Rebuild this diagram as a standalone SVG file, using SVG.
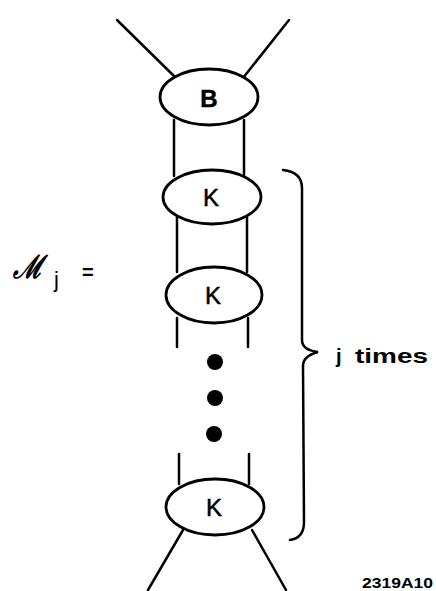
<svg xmlns="http://www.w3.org/2000/svg" width="436" height="591" viewBox="0 0 436 591">
<style>
.s{fill:none;stroke:#000;stroke-width:2.5;stroke-linecap:round}
.e{fill:#fff;stroke:#000;stroke-width:2.8}
.lbl{font-family:"Liberation Sans",Arial,sans-serif;font-size:24px;text-anchor:middle;fill:#000;stroke:#000;stroke-width:0.5}
.dot{fill:#000}
</style>
<rect width="436" height="591" fill="#fff"/>
<g id="connectors">
<line class="s" x1="117" y1="20" x2="176" y2="78"/>
<line class="s" x1="289" y1="20" x2="243" y2="78"/>
<line class="s" x1="174" y1="120" x2="174" y2="176"/>
<line class="s" x1="244" y1="120" x2="244" y2="176"/>
<line class="s" x1="177" y1="217" x2="177" y2="272"/>
<line class="s" x1="247" y1="217" x2="247" y2="272"/>
<line class="s" x1="177" y1="318" x2="177" y2="347"/>
<line class="s" x1="248" y1="318" x2="248" y2="347"/>
<line class="s" x1="179" y1="454" x2="179" y2="484"/>
<line class="s" x1="249" y1="454" x2="249" y2="484"/>
<line class="s" x1="183" y1="530" x2="148" y2="590"/>
<line class="s" x1="252" y1="530" x2="286" y2="590"/>
</g>
<g id="node-B">
<ellipse class="e" cx="209" cy="97" rx="49" ry="28"/>
<text class="lbl" x="209" y="107" font-weight="bold" font-size="25">B</text>
</g>
<g id="node-K1">
<ellipse class="e" cx="212" cy="197" rx="49" ry="27"/>
<text class="lbl" x="211" y="206">K</text>
</g>
<g id="node-K2">
<ellipse class="e" cx="214" cy="295" rx="48" ry="28"/>
<text class="lbl" x="213" y="304">K</text>
</g>
<g id="dots">
<circle class="dot" cx="215" cy="362" r="8"/>
<circle class="dot" cx="215" cy="398" r="8"/>
<circle class="dot" cx="214" cy="434" r="8"/>
</g>
<g id="node-K3">
<ellipse class="e" cx="215" cy="507" rx="49" ry="28"/>
<text class="lbl" x="214" y="516">K</text>
</g>
<g id="brace">
<path class="s" d="M283,170 Q302,172 302,188 L302,340 Q302,350 318,352 Q303,356 303,366 L304,522 Q304,538 290,540"/>
</g>
<g id="labels">
<text x="13" y="278" font-family="'DejaVu Serif',serif" font-style="italic" font-weight="bold" font-size="32" fill="#000" textLength="30" lengthAdjust="spacingAndGlyphs">ℳ</text>
<text x="54" y="287" font-family="'Liberation Sans',Arial,sans-serif" font-size="22" fill="#000">j</text>
<text x="82" y="279" font-family="'Liberation Sans',Arial,sans-serif" font-weight="bold" font-size="20" fill="#000">=</text>
<text x="336" y="363" font-family="'Liberation Sans',Arial,sans-serif" font-weight="bold" font-size="20" fill="#000">j</text>
<text x="355" y="363" font-family="'Liberation Sans',Arial,sans-serif" font-weight="bold" font-size="20" fill="#000" textLength="73" lengthAdjust="spacingAndGlyphs">times</text>
<text x="362" y="588" font-family="'Liberation Sans',Arial,sans-serif" font-weight="bold" font-size="14" fill="#000" textLength="71" lengthAdjust="spacingAndGlyphs">2319A10</text>
</g>
</svg>
